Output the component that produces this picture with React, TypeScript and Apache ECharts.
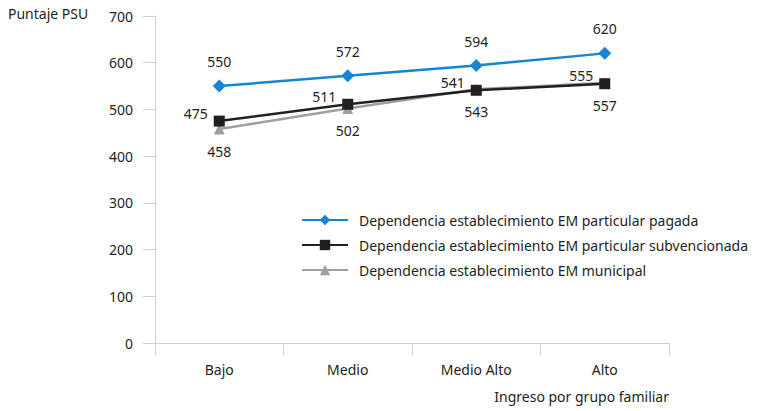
import React, { useEffect, useRef } from "react";
import * as echarts from "echarts";

const categories = ["Bajo", "Medio", "Medio Alto", "Alto"];
const pagada = [550, 572, 594, 620];
const subvencionada = [475, 511, 541, 555];
const municipal = [458, 502, 543, 557];
const seriesNames = [
  "Dependencia establecimiento EM particular pagada",
  "Dependencia establecimiento EM particular subvencionada",
  "Dependencia establecimiento EM municipal",
];
const yAxisTitle = "Puntaje PSU";
const xAxisTitle = "Ingreso por grupo familiar";

const FONT = "'Noto Sans', sans-serif";
const FS = 14;
const TEXT = "#231f20";
const AXIS = "#cfcfcf";

export default function App() {
  const ref = useRef<HTMLDivElement>(null);
  useEffect(() => {
    const chart = echarts.init(ref.current!, null, { renderer: "svg" });
    chart.setOption({
      animation: false,
      textStyle: { fontFamily: FONT, color: TEXT },
      grid: { left: 155, right: 93, top: 16, bottom: 68 },
      legend: {
        orient: "vertical",
        left: 296,
        top: 208,
        itemWidth: 46,
        itemHeight: 13,
        itemGap: 11,
        textStyle: { fontFamily: FONT, fontSize: FS, color: TEXT, padding: [0, 0, 0, 6] },
        data: seriesNames,
      },
      graphic: [
        {
          type: "text",
          left: 8,
          top: 6,
          style: { text: yAxisTitle, font: `${FS}px ${FONT}`, fill: TEXT },
        },
        {
          type: "text",
          right: 93,
          top: 389,
          style: { text: xAxisTitle, font: `${FS}px ${FONT}`, fill: TEXT },
        },
      ],
      xAxis: {
        type: "category",
        data: categories,
        boundaryGap: true,
        axisLine: { lineStyle: { color: AXIS, width: 1 } },
        axisTick: { show: true, length: 12, lineStyle: { color: AXIS } },
        axisLabel: { margin: 19, fontSize: FS, color: TEXT, fontFamily: FONT },
      },
      yAxis: {
        type: "value",
        min: 0,
        max: 700,
        interval: 100,
        axisLine: { show: true, lineStyle: { color: AXIS, width: 1 } },
        axisTick: { show: true, length: 12, lineStyle: { color: AXIS } },
        splitLine: { show: false },
        axisLabel: { margin: 22, fontSize: FS, color: TEXT, fontFamily: FONT },
      },
      series: [
        {
          name: seriesNames[0],
          type: "line",
          data: pagada,
          symbol: "diamond",
          symbolSize: 13,
          z: 3,
          lineStyle: { color: "#1585d3", width: 2.5 },
          itemStyle: { color: "#1585d3" },
          label: { show: true, position: "top", distance: 11, fontSize: FS, color: TEXT, fontFamily: FONT },
        },
        {
          name: seriesNames[1],
          type: "line",
          data: subvencionada,
          symbol: "rect",
          symbolSize: 11,
          z: 2,
          lineStyle: { color: "#231f20", width: 2.5 },
          itemStyle: { color: "#231f20" },
          label: { show: true, position: "left", distance: 6, offset: [0, -8], fontSize: FS, color: TEXT, fontFamily: FONT },
        },
        {
          name: seriesNames[2],
          type: "line",
          data: municipal,
          symbol: "triangle",
          symbolSize: 11,
          z: 1,
          lineStyle: { color: "#a09f9f", width: 2.5 },
          itemStyle: { color: "#a09f9f" },
          label: { show: true, position: "bottom", distance: 10, fontSize: FS, color: TEXT, fontFamily: FONT },
        },
      ],
    });
    return () => chart.dispose();
  }, []);
  return <div ref={ref} style={{ width: 762, height: 411, position: "absolute", left: 0, top: 0 }} />;
}
